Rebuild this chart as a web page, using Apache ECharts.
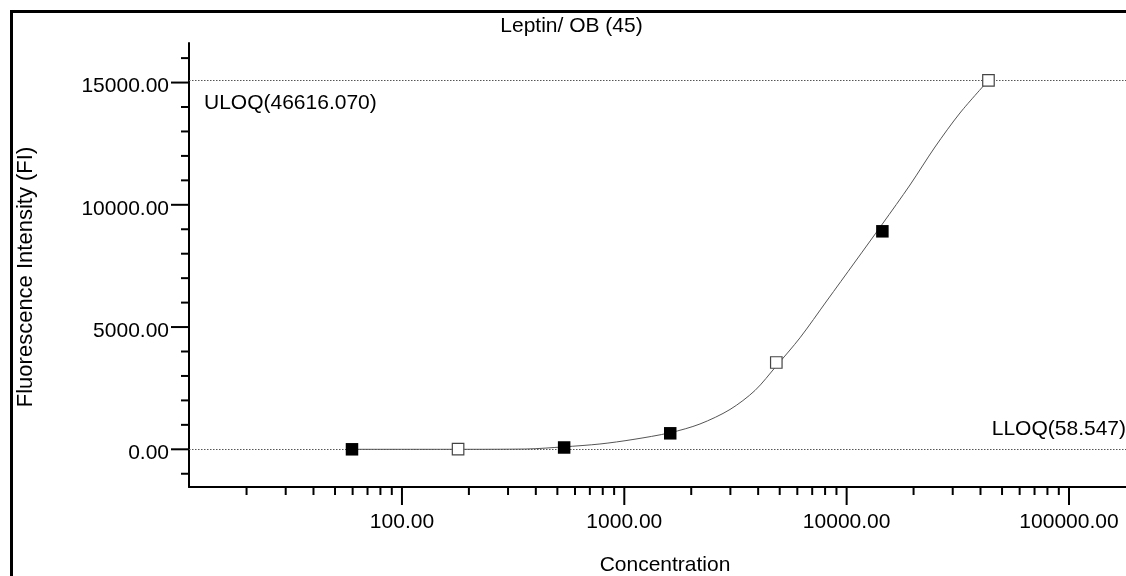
<!DOCTYPE html>
<html>
<head>
<meta charset="utf-8">
<title>Leptin/ OB (45)</title>
<script src="https://cdn.jsdelivr.net/npm/echarts@6/dist/echarts.min.js"></script>
<style>
  html, body { margin: 0; padding: 0; background: #fff; }
  #chart { width: 1126px; height: 576px; }
</style>
</head>
<body>
<div id="chart"></div>
<script>
// ---- text ----
const chartTitle = 'Leptin/ OB (45)';
const xAxisTitle = 'Concentration';
const yAxisTitle = 'Fluorescence Intensity (FI)';

// ---- standards (3-fold dilution series); open = excluded point ----
const stdConc = [59.6, 178.8, 536.3, 1609, 4827, 14480, 43440];
const stdFI   = [0, 5, 74, 654, 3550, 8916, 15090];
const stdOpen = [false, true, false, false, true, false, true];

// ---- fitted standard curve, sampled along concentration ----
const curveConc = [59.6, 178.8, 361, 536.3, 777, 1094, 1609, 2189, 2988, 3870, 4827,
                   6168, 8132, 10900, 14480, 19270, 24970, 32340, 43440];
const curveFI   = [0, 0, 12, 102, 217, 401, 679, 1035, 1628, 2405, 3407,
                   4560, 6065, 7661, 9215, 10810, 12364, 13755, 15090];

// ---- quantitation limits ----
const limitNames = ['ULOQ(46616.070)', 'LLOQ(58.547)'];
const limitFI    = [15090, 0];

// ---- axis ticks ----
const xMajorTicks = [100, 1000, 10000, 100000];
const xMinorTicks = [20, 30, 40, 50, 60, 70, 80, 90,
                     200, 300, 400, 500, 600, 700, 800, 900,
                     2000, 3000, 4000, 5000, 6000, 7000, 8000, 9000,
                     20000, 30000, 40000, 50000, 60000, 70000, 80000, 90000];
const yMajorTicks = [0, 5000, 10000, 15000];
const yMinorTicks = [-1000, 1000, 2000, 3000, 4000, 6000, 7000, 8000, 9000,
                     11000, 12000, 13000, 14000, 16000];

// ---- axis ranges ----
const X_MIN = 11.02, X_MAX = 180500;
const Y_MIN = -1542, Y_MAX = 16618;

const FAMILY = '"Liberation Sans", Arial, sans-serif';
const FONT = '21px ' + FAMILY;
const fmt = v => v.toFixed(2);

function xTickSeries(values, len, labelled) {
  return {
    type: 'custom', silent: true, clip: false, z: 8,
    data: values.map(v => [v, Y_MIN]),
    renderItem: (params, api) => {
      const v = api.value(0);
      const p = api.coord([v, api.value(1)]);
      const children = [{
        type: 'line',
        shape: { x1: p[0], y1: p[1], x2: p[0], y2: p[1] + len },
        style: { stroke: '#000', lineWidth: 2 }
      }];
      if (labelled) {
        children.push({
          type: 'text', x: p[0], y: p[1] + 35.5,
          style: { text: fmt(v), font: FONT, fill: '#000', align: 'center', verticalAlign: 'middle' }
        });
      }
      return { type: 'group', children };
    }
  };
}

function yTickSeries(values, len, labelled) {
  return {
    type: 'custom', silent: true, clip: false, z: 8,
    data: values.map(v => [X_MIN, v]),
    renderItem: (params, api) => {
      const v = api.value(1);
      const p = api.coord([api.value(0), v]);
      const children = [{
        type: 'line',
        shape: { x1: p[0] - len, y1: p[1], x2: p[0], y2: p[1] },
        style: { stroke: '#000', lineWidth: 2 }
      }];
      if (labelled) {
        children.push({
          type: 'text', x: p[0] - 20, y: p[1] + 4,
          style: { text: fmt(v), font: FONT, fill: '#000', align: 'right', verticalAlign: 'middle' }
        });
      }
      return { type: 'group', children };
    }
  };
}

const pick = open => stdConc
  .map((c, i) => [c, stdFI[i], stdOpen[i]])
  .filter(d => d[2] === open)
  .map(d => [d[0], d[1]]);

const chart = echarts.init(document.getElementById('chart'), null, { renderer: 'canvas' });

chart.setOption({
  animation: false,
  backgroundColor: '#fff',
  grid: { left: 189, right: 0, top: 43, bottom: 89, containLabel: false },
  xAxis: {
    type: 'log', logBase: 10, min: X_MIN, max: X_MAX,
    axisLine: { show: true, onZero: false, lineStyle: { color: '#000', width: 2 } },
    axisTick: { show: false }, axisLabel: { show: false },
    splitLine: { show: false }, minorTick: { show: false }
  },
  yAxis: {
    type: 'value', min: Y_MIN, max: Y_MAX,
    axisLine: { show: true, onZero: false, lineStyle: { color: '#000', width: 2 } },
    axisTick: { show: false }, axisLabel: { show: false },
    splitLine: { show: false }
  },
  graphic: [
    {
      type: 'polyline', silent: true, z: 0,
      shape: { points: [[11.5, 600], [11.5, 11.5], [1140, 11.5]] },
      style: { stroke: '#000', lineWidth: 3, fill: null }
    },
    {
      type: 'text', x: 571.5, y: 26, silent: true,
      style: { text: chartTitle, font: FONT, fill: '#000', align: 'center', verticalAlign: 'middle' }
    },
    {
      type: 'text', x: 665, y: 565, silent: true,
      style: { text: xAxisTitle, font: FONT, fill: '#000', align: 'center', verticalAlign: 'middle' }
    },
    {
      type: 'text', x: 26, y: 277, rotation: Math.PI / 2, silent: true,
      style: { text: yAxisTitle, font: '22px ' + FAMILY, fill: '#000', align: 'center', verticalAlign: 'middle' }
    }
  ],
  series: [
    {
      name: 'Curve', type: 'line', z: 3,
      data: curveConc.map((c, i) => [c, curveFI[i]]),
      showSymbol: false, smooth: 0.3,
      lineStyle: { color: '#555', width: 1 },
      silent: true,
      markLine: {
        z: 2, silent: true, symbol: 'none', animation: false,
        lineStyle: { color: '#555', width: 1, type: [1.5, 1.5] },
        data: [
          {
            yAxis: limitFI[0],
            label: { show: true, formatter: limitNames[0], position: 'insideStartBottom',
                     distance: [15, 12], color: '#000', fontSize: 21, fontFamily: FAMILY }
          },
          {
            yAxis: limitFI[1],
            label: { show: true, formatter: limitNames[1], position: 'insideEndTop',
                     distance: [0, 10], color: '#000', fontSize: 21, fontFamily: FAMILY }
          }
        ]
      }
    },
    {
      name: 'Standards', type: 'scatter', z: 6,
      data: pick(false), symbol: 'rect', symbolSize: 12.5,
      itemStyle: { color: '#000', borderWidth: 0, opacity: 1 }
    },
    {
      name: 'Excluded', type: 'scatter', z: 6,
      data: pick(true), symbol: 'rect', symbolSize: 11.5,
      itemStyle: { color: '#fff', borderColor: '#444', borderWidth: 1.2, opacity: 1 }
    },
    xTickSeries(xMajorTicks, 18, true),
    xTickSeries(xMinorTicks, 8, false),
    yTickSeries(yMajorTicks, 18, true),
    yTickSeries(yMinorTicks, 8, false)
  ]
});
</script>
</body>
</html>
